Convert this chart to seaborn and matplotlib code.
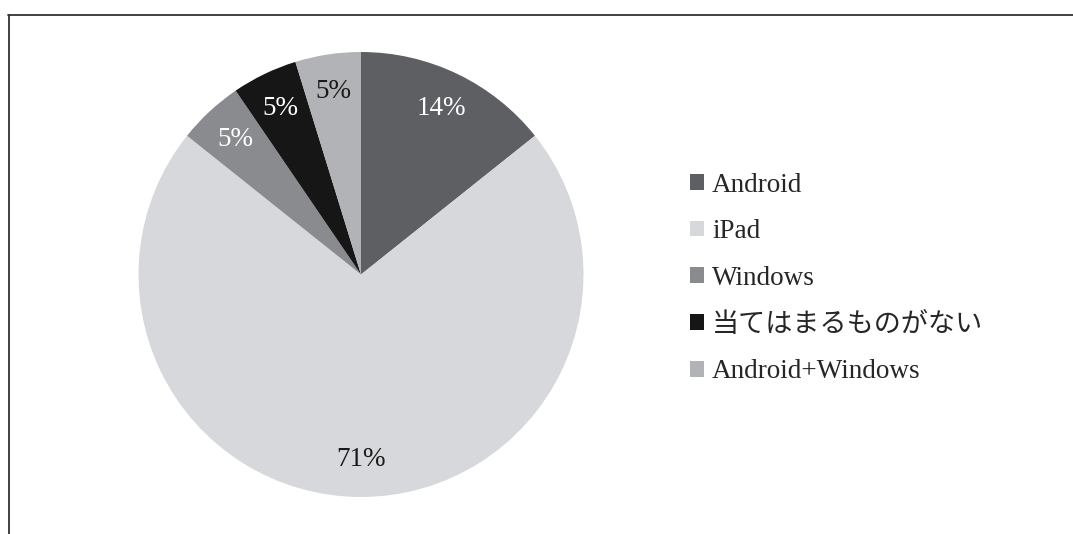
import matplotlib
matplotlib.use("Agg")
import matplotlib.pyplot as plt
from matplotlib.lines import Line2D
from matplotlib.patches import Patch
import seaborn as sns

categories = ["Android", "iPad", "Windows", "当てはまるものがない", "Android+Windows"]
counts = [3, 15, 1, 1, 1]
pct_labels = ["14%", "71%", "5%", "5%", "5%"]
colors = ["#5e5f63", "#d7d8dc", "#8a8b8e", "#161616", "#b2b3b6"]
label_colors = ["white", "#1a1a1a", "white", "white", "#1a1a1a"]

sns.set_theme(style="white")
plt.rcParams["font.family"] = ["Liberation Serif", "Noto Sans CJK JP", "DejaVu Sans"]

W, H = 1073, 534
fig = plt.figure(figsize=(W / 100, H / 100), dpi=100)
cx, cy, r = 361, 274.5, 222.5
ax = fig.add_axes([(cx - r) / W, (H - cy - r) / H, 2 * r / W, 2 * r / H])

wedges, texts = ax.pie(counts, colors=colors, startangle=90, counterclock=False,
                       labels=pct_labels, labeldistance=0.83,
                       wedgeprops=dict(linewidth=0))
for t, c in zip(texts, label_colors):
    t.set_color(c)
    t.set_fontsize(19.5)
    t.set_horizontalalignment("center")
    t.set_verticalalignment("center")
ax.set_xlim(-1, 1)
ax.set_ylim(-1, 1)
ax.set_aspect("equal")
ax.axis("off")

handles = [Patch(facecolor=c, edgecolor="none") for c in colors]
leg = fig.legend(handles, categories, loc="upper left",
                 bbox_to_anchor=(690 / W, 1 - 172.5 / H), frameon=False,
                 fontsize=19.5, handlelength=0.52, handleheight=0.52,
                 handletextpad=0.3, labelspacing=0.8, borderpad=0,
                 borderaxespad=0)

fig.add_artist(Line2D([8 / W, 1], [1 - 15 / H, 1 - 15 / H], color="#333333", lw=1.3))
fig.add_artist(Line2D([9 / W, 9 / W], [0, 1 - 15 / H], color="#333333", lw=1.3))

fig.savefig("out.png", dpi=100, facecolor="white")
